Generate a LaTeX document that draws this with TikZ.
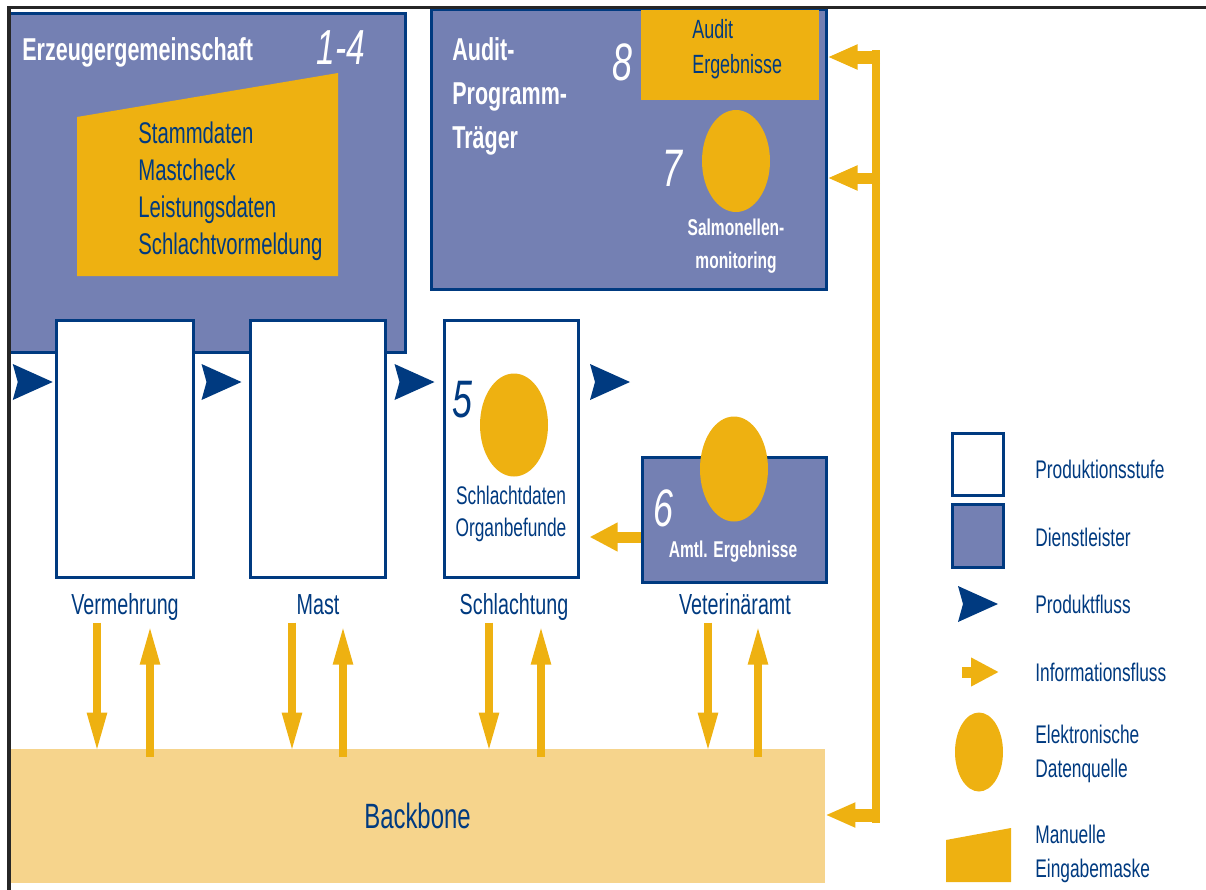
\documentclass[tikz,border=0pt]{standalone}
\usepackage{fontspec}
\newfontfamily\condfont{Liberation Sans}[FakeStretch=0.68]
\usetikzlibrary{arrows.meta,shapes.geometric,calc}
\definecolor{navy}{RGB}{0,58,128}
\definecolor{slate}{RGB}{116,128,179}
\definecolor{gold}{RGB}{238,177,17}
\definecolor{sand}{RGB}{246,212,140}
\tikzset{
  stage/.style={draw=navy, line width=0.6mm, fill=white, inner sep=0pt},
  service/.style={draw=navy, line width=0.6mm, fill=slate, inner sep=0pt},
  datasrc/.style={ellipse, fill=gold, inner sep=0pt, minimum width=13.6mm, minimum height=20.6mm},
  lbl/.style={text=navy, inner sep=1pt, text height=12pt, text depth=3.5pt, font=\condfont\fontsize{16.5}{20}\selectfont},
  legtxt/.style={text=navy, anchor=west, inner sep=0pt, align=left, font=\condfont\fontsize{14.5}{19.3}\selectfont},
  num/.style={inner sep=0pt, font=\condfont\itshape\fontsize{30}{30}\selectfont},
  whitetxt/.style={text=white, inner sep=0pt, font=\condfont\bfseries\fontsize{13}{18.7}\selectfont},
  infov/.style={draw=gold, line width=1.6mm, -{Triangle[length=8mm,width=3.6mm]}},
  infoh/.style={draw=gold, line width=2.6mm, -{Triangle[length=6mm,width=4.6mm]}},
  infosm/.style={draw=gold, line width=2.2mm, -{Triangle[length=5.6mm,width=5.4mm]}},
  flowhead/.pic={\fill[navy] (20,0) -- (-20,-18) -- (-15,0) -- (-20,18) -- cycle;}
}
\begin{document}
\begin{tikzpicture}[x=0.2mm,y=-0.2mm]
\useasboundingbox (0,0) rectangle (1206,890);
\node[fill=sand, minimum width=163mm, minimum height=26.8mm, inner sep=0pt, text=navy, font=\condfont\fontsize{20}{20}\selectfont] (backbone) at (417.5,816) {Backbone};
\node[service, minimum width=79mm, minimum height=67.6mm] (erzeuger) at (207.5,183) {};
\fill[gold] (77,117) -- (338,73) -- (338,276) -- (77,276) -- cycle;
\node[anchor=west, text=white, inner sep=0pt, font=\condfont\bfseries\fontsize{18}{18}\selectfont] (erzeugertitle) at (22,52) {Erzeugergemeinschaft};
\node[text=white, inner sep=0pt, font=\condfont\itshape\fontsize{28}{28}\selectfont] (erzeugernum) at (341,48) {1-4};
\node[anchor=west, align=left, text=navy, inner sep=0pt, font=\condfont\fontsize{17}{21}\selectfont] (erzeugerdata) at (138,191) {Stammdaten\\Mastcheck\\Leistungsdaten\\Schlachtvormeldung};
\node[service, minimum width=78.8mm, minimum height=55.8mm] (audit) at (629,149.5) {};
\node[fill=gold, minimum width=35.6mm, minimum height=18mm, inner sep=0pt] (auditres) at (730,55) {};
\node[anchor=west, align=left, text=navy, inner sep=0pt, font=\condfont\fontsize{15}{20}\selectfont] (auditrestxt) at (692,49) {Audit\\Ergebnisse};
\node[anchor=west, align=left, text=white, inner sep=0pt, font=\condfont\bfseries\fontsize{18}{25}\selectfont] (audittitle) at (452,96) {Audit-\\Programm-\\Träger};
\node[num, text=white] (auditnum) at (622,62) {8};
\node[num, text=white] (salmnum) at (672,168) {7};
\node[datasrc, minimum height=20.4mm] (salm) at (736,161) {};
\node[whitetxt, align=center] (salmtxt) at (736,246) {Salmonellen-\\monitoring};
\node[stage, minimum width=27.2mm, minimum height=51.4mm] (verm) at (125,448.5) {};
\node[stage, minimum width=27mm, minimum height=51.4mm] (mast) at (317.5,448.5) {};
\node[stage, minimum width=26.8mm, minimum height=51.4mm] (schl) at (511,448.5) {};
\node[num, text=navy] (schlnum) at (462,400) {5};
\node[datasrc] (schlsrc) at (514,425) {};
\node[align=center, text=navy, inner sep=0pt, font=\condfont\fontsize{14.5}{18}\selectfont] (schltxt) at (511,514) {Schlachtdaten\\Organbefunde};
\node[service, minimum width=36.8mm, minimum height=25mm] (vet) at (734,519.5) {};
\node[datasrc, minimum height=21mm] (vetsrc) at (734,469) {};
\node[num, text=white] (vetnum) at (663,508) {6};
\node[whitetxt] (vettxt) at (733,552) {Amtl. Ergebnisse};
\draw[infosm] ($(vet.west)+(0,17.5)$) -- ($(vet.west -| schl.east)+(10,17.5)$);
\coordinate (leftedge) at (10,382);
\coordinate (flowrow) at (0,382);
\path (leftedge) -- (verm.west |- flowrow) pic[pos=0.5]{flowhead};
\path (verm.east |- flowrow) -- (mast.west |- flowrow) pic[pos=0.5]{flowhead};
\path (mast.east |- flowrow) -- (schl.west |- flowrow) pic[pos=0.5]{flowhead};
\path (schl.east |- flowrow) -- (vet.west |- flowrow) pic[pos=0.5]{flowhead};
\node[lbl] (lverm) at (125,607) {Vermehrung};
\node[lbl] (lmast) at (318,607) {Mast};
\node[lbl] (lschl) at (514,607) {Schlachtung};
\node[lbl] (lvet) at (735,607) {Veterinäramt};
\foreach \n/\dl/\ul in {lverm/-28/25, lmast/-26/25, lschl/-25/27, lvet/-27/23} {
  \draw[infov] ($(\n.south)+(\dl,0)$) -- ($(\n.south |- backbone.north)+(\dl,4)$);
  \draw[infov] ($(\n.south |- backbone.north)+(\ul,8)$) -- ($(\n.south)+(\ul,2)$);
}
\coordinate (bustop) at (880,57);
\coordinate (busmid) at (880,178);
\coordinate (busbot) at (880,815);
\draw[gold, line width=1.6mm] ($(bustop)+(-4,-7)$) -- ($(busbot)+(-4,8)$);
\draw[infoh] (bustop) -- (bustop -| audit.east);
\draw[infoh, line width=2.2mm] (busmid) -- (busmid -| audit.east);
\draw[infoh] (busbot) -- (busbot -| backbone.east);
\node[stage, minimum width=10.2mm, minimum height=12.4mm] (legstage) at (977.5,464) {};
\node[service, minimum width=10.2mm, minimum height=12.6mm] (legservice) at (977.5,535.5) {};
\pic at (978,604) {flowhead};
\coordinate (leginfo) at (962,672);
\draw[infosm] (leginfo) -- ++(37,0);
\node[datasrc, minimum width=9.6mm, minimum height=15.8mm] (legsrc) at (979,752) {};
\fill[gold] (946,840) -- (1011,828) -- (1011,882) -- (946,882) -- cycle;
\node[legtxt] (tstage) at (1035,469) {Produktionsstufe};
\node[legtxt] (tservice) at (1035,537) {Dienstleister};
\node[legtxt] (tflow) at (1035,604) {Produktfluss};
\node[legtxt] (tinfo) at (1035,672) {Informationsfluss};
\node[legtxt] (tsrc) at (1035,754) {Elektronische\\Datenquelle};
\node[legtxt] (tmask) at (1035,854) {Manuelle\\Eingabemaske};
\draw[line width=0.7mm, black!85] (1206,7.5) -- (9,7.5) -- (9,890);
\end{tikzpicture}
\end{document}
